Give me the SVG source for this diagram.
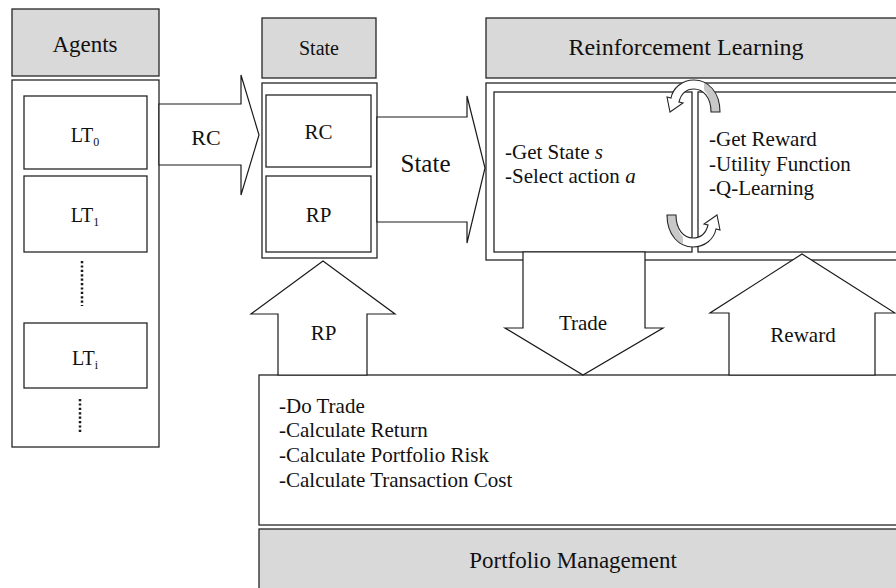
<svg xmlns="http://www.w3.org/2000/svg" width="896" height="588" viewBox="0 0 896 588">
<style>
.hdr{fill:#d9d9d9;stroke:#262626;stroke-width:1.3}
.box{fill:#ffffff;stroke:#262626;stroke-width:1.3}
.arr{fill:#ffffff;stroke:#1a1a1a;stroke-width:1.2;stroke-linejoin:miter}
.t{font-family:"Liberation Serif","Times New Roman",serif;fill:#111111}
.c{text-anchor:middle}
.dot{stroke:#1a1a1a;stroke-width:2.5;stroke-dasharray:2.2 2.2}
.cg{fill:#c8c8c8;stroke:none}
.co{fill:none;stroke:#262626;stroke-width:1.1}
</style>
<rect width="896" height="588" fill="#ffffff"/>

<g id="agents">
  <rect class="hdr" x="12" y="9" width="147" height="67"/>
  <text class="t c" x="85" y="52" font-size="23">Agents</text>
  <rect class="box" x="12" y="80" width="147" height="367"/>
  <g id="lt0">
    <rect class="box" x="24" y="96" width="123" height="73"/>
    <text class="t c" x="85" y="142" font-size="20">LT<tspan font-size="12" dy="4">0</tspan></text>
  </g>
  <g id="lt1">
    <rect class="box" x="24" y="176" width="123" height="76"/>
    <text class="t c" x="85" y="222" font-size="20">LT<tspan font-size="12" dy="4">1</tspan></text>
  </g>
  <line class="dot" x1="82" y1="261" x2="82" y2="306"/>
  <g id="lti">
    <rect class="box" x="24" y="323" width="123" height="65"/>
    <text class="t c" x="85" y="365" font-size="20">LT<tspan font-size="12" dy="4">i</tspan></text>
  </g>
  <line class="dot" x1="80" y1="399" x2="80" y2="434"/>
</g>

<g id="state">
  <rect class="hdr" x="262" y="18" width="114" height="60"/>
  <text class="t c" x="319" y="55" font-size="20">State</text>
  <rect class="box" x="262" y="83" width="115" height="175"/>
  <rect class="box" x="266" y="95" width="105" height="72"/>
  <text class="t c" x="318.5" y="139" font-size="21">RC</text>
  <rect class="box" x="266" y="176" width="105" height="76"/>
  <text class="t c" x="318.5" y="222" font-size="21">RP</text>
</g>

<g id="rl">
  <rect class="hdr" x="486" y="18" width="420" height="60"/>
  <text class="t c" x="686" y="55" font-size="24">Reinforcement Learning</text>
  <rect class="box" x="486" y="83" width="420" height="177"/>
  <rect class="box" x="494" y="92" width="198" height="160"/>
  <rect class="box" x="698" y="92" width="208" height="160"/>
  <text class="t" x="505" y="159" font-size="21">-Get State <tspan font-style="italic">s</tspan></text>
  <text class="t" x="505" y="183" font-size="21">-Select action <tspan font-style="italic">a</tspan></text>
  <text class="t" x="709" y="146" font-size="21">-Get Reward</text>
  <text class="t" x="709" y="171" font-size="21">-Utility Function</text>
  <text class="t" x="709" y="195" font-size="21">-Q-Learning</text>
</g>

<g id="pm">
  <rect class="box" x="259" y="375" width="647" height="150"/>
  <text class="t" x="279" y="413" font-size="21">-Do Trade</text>
  <text class="t" x="279" y="437" font-size="21">-Calculate Return</text>
  <text class="t" x="279" y="462" font-size="21">-Calculate Portfolio Risk</text>
  <text class="t" x="279" y="487" font-size="21">-Calculate Transaction Cost</text>
  <rect class="hdr" x="259" y="529" width="647" height="65"/>
  <text class="t c" x="573" y="568" font-size="23">Portfolio Management</text>
</g>

<g id="connectors">
  <g id="rc-arrow">
    <polygon class="arr" points="159,104 241,104 241,75 259,135 241,195 241,165 159,165"/>
    <text class="t c" x="206" y="145" font-size="22">RC</text>
  </g>
  <g id="state-arrow">
    <polygon class="arr" points="377,117 467,117 467,96 485,168 467,243 467,222 377,222"/>
    <text class="t c" x="425.5" y="172" font-size="25">State</text>
  </g>
  <g id="rp-arrow">
    <polygon class="arr" points="278,375 278,314 251,314 323,261 395,314 367,314 367,375"/>
    <text class="t c" x="323.5" y="340" font-size="21">RP</text>
  </g>
  <g id="trade-arrow">
    <polygon class="arr" points="523,252 645,252 645,328 663,328 583,375 505,328 523,328"/>
    <text class="t c" x="583" y="330" font-size="21">Trade</text>
  </g>
  <g id="reward-arrow">
    <polygon class="arr" points="729,375 729,313 710,313 802,254 895,313 875,313 875,375"/>
    <text class="t c" x="803" y="342" font-size="21">Reward</text>
  </g>
  <g id="loop-top">
    <path d="M720,112 C720,92 708,80 694,80 C682,80 673,88 671,98 L667,97 L670,112 L683,103 L679,102 C681,94 686,89 694,89 C703,89 711,97 711,112 Z" fill="#ffffff"/>
    <path class="cg" d="M704,83 C714,88 720,98 720,112 L711,112 C711,101 708,94 704,90 Z"/>
    <path class="co" d="M720,112 C720,92 708,80 694,80 C682,80 673,88 671,98 L667,97 L670,112 L683,103 L679,102 C681,94 686,89 694,89 C703,89 711,97 711,112 Z"/>
  </g>
  <g id="loop-bottom" transform="rotate(180 693.5 163.5)">
    <path d="M720,112 C720,92 708,80 694,80 C682,80 673,88 671,98 L667,97 L670,112 L683,103 L679,102 C681,94 686,89 694,89 C703,89 711,97 711,112 Z" fill="#ffffff"/>
    <path class="cg" d="M704,83 C714,88 720,98 720,112 L711,112 C711,101 708,94 704,90 Z"/>
    <path class="co" d="M720,112 C720,92 708,80 694,80 C682,80 673,88 671,98 L667,97 L670,112 L683,103 L679,102 C681,94 686,89 694,89 C703,89 711,97 711,112 Z"/>
  </g>
</g>
</svg>
